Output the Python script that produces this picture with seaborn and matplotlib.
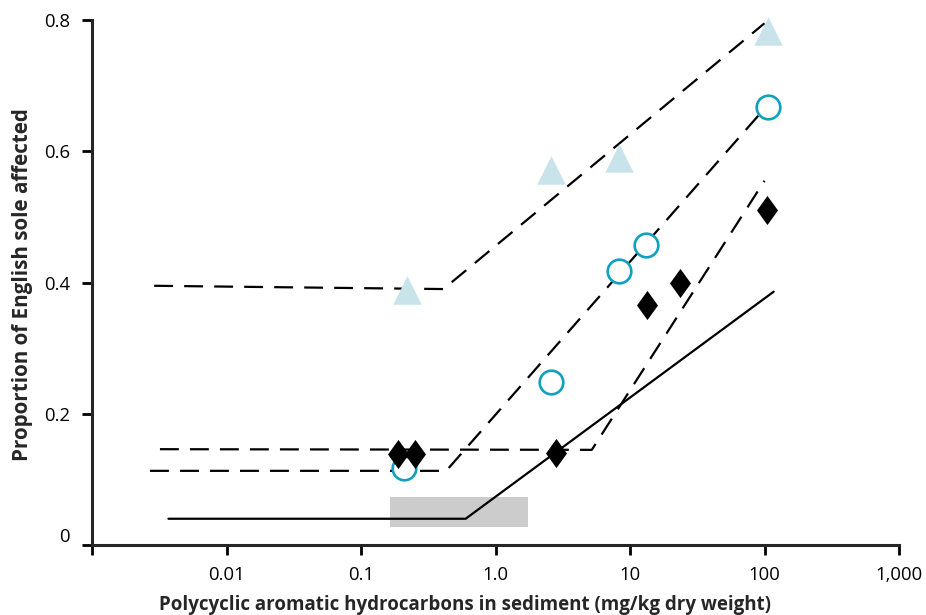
import numpy as np
import pandas as pd
import matplotlib
matplotlib.use("Agg")
import matplotlib.pyplot as plt
import matplotlib.transforms as mtransforms
import seaborn as sns

# measured points
tri_x = [0.22, 2.6, 8.3, 106]
tri_y = [0.389, 0.571, 0.589, 0.783]
circ_x = [0.209, 2.59, 8.3, 13.2, 106]
circ_y = [0.118, 0.248, 0.417, 0.457, 0.667]
dia_x = [0.188, 0.25, 2.8, 13.4, 23.5, 104]
dia_y = [0.139, 0.139, 0.140, 0.366, 0.400, 0.510]

# fitted hockey-stick lines
tri_line_x = [0.0029, 0.41, 100]
tri_line_y = [0.395, 0.390, 0.795]
circ_line_x = [0.0027, 0.43, 100]
circ_line_y = [0.113, 0.113, 0.665]
dia_line_x = [0.0032, 5.2, 100]
dia_line_y = [0.146, 0.145, 0.555]
solid_x = [0.0037, 0.60, 117]
solid_y = [0.040, 0.040, 0.386]

# grey threshold band
band_x = [0.164, 1.75]
band_y = [0.027, 0.073]

xticks = [0.001, 0.01, 0.1, 1, 10, 100, 1000]
xtick_labels = ["", "0.01", "0.1", "1.0", "10", "100", "1,000"]
yticks = [0, 0.2, 0.4, 0.6, 0.8]
ytick_labels = ["0", "0.2", "0.4", "0.6", "0.8"]

sns.set_style("ticks")
plt.rcParams["font.family"] = ["Open Sans", "DejaVu Sans"]

fig = plt.figure(figsize=(9.26, 6.15), dpi=100)
ax = fig.add_axes([92 / 926, 70 / 615, 807 / 926, 525 / 615])

ax.fill_between(band_x, band_y[0], band_y[1], color="#cccccc", linewidth=0, zorder=1)

dash = (0, (8.5, 5))
for lx, ly, ls in [(tri_line_x, tri_line_y, dash),
                   (circ_line_x, circ_line_y, dash),
                   (dia_line_x, dia_line_y, dash),
                   (solid_x, solid_y, "-")]:
    sns.lineplot(x=lx, y=ly, ax=ax, color="black", linewidth=1.6,
                 linestyle=ls, sort=False, zorder=2)

sns.scatterplot(x=tri_x, y=tri_y, ax=ax, marker="^", s=20.5 ** 2,
                color="#c8e3ea", linewidth=0, zorder=3, clip_on=False)
sns.scatterplot(x=circ_x, y=circ_y, ax=ax, marker="o", s=17 ** 2,
                facecolor="white", edgecolor="#10a0c0", linewidth=1.9,
                zorder=3, clip_on=False)
diamond = [(0, 1), (0.72, 0), (0, -1), (-0.72, 0), (0, 1)]
sns.scatterplot(x=dia_x, y=dia_y, ax=ax, marker=diamond, s=21 ** 2,
                color="black", linewidth=0, zorder=4, clip_on=False)

ax.set_xscale("log")
ax.set_xlim(0.001, 1000)
ax.set_ylim(0, 0.8)
ax.set_xticks(xticks)
ax.set_xticklabels(xtick_labels)
ax.minorticks_off()
ax.set_yticks(yticks)
ax.set_yticklabels(ytick_labels)

sns.despine(ax=ax)
for side in ["left", "bottom"]:
    ax.spines[side].set_linewidth(2.2)
ax.tick_params(axis="both", direction="out", length=7, width=2, labelsize=13.3,
               color="black", labelcolor="black")
ax.tick_params(axis="y", pad=9)
ax.tick_params(axis="x", pad=8)

# the "0" label sits a little above its tick in the original
lab0 = ax.get_yticklabels()[0]
lab0.set_transform(lab0.get_transform() +
                   mtransforms.ScaledTranslation(0, 7 / 72, fig.dpi_scale_trans))

ax.set_xlabel("Polycyclic aromatic hydrocarbons in sediment (mg/kg dry weight)",
              fontsize=13.5, fontweight="bold")
ax.xaxis.set_label_coords(0.462, -0.095)
ax.set_ylabel("Proportion of English sole affected",
              fontsize=14.9, fontweight="bold")
ax.yaxis.set_label_coords(-0.073, 0.497)

fig.savefig("out.png", dpi=100)
